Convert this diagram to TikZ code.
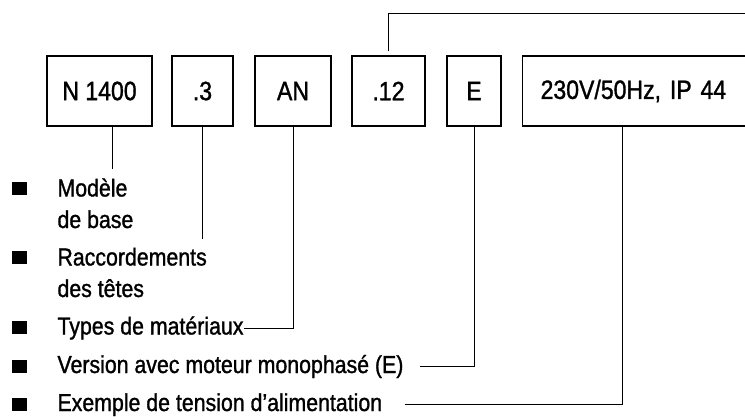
\documentclass[tikz,border=0pt]{standalone}
\usepackage{fontspec}
\setmainfont{Liberation Sans}[FakeStretch=0.87,FakeBold=1.2]

\begin{document}
\begin{tikzpicture}[x=1pt,y=-1pt,line width=1pt,
  code/.style={draw,line width=1.2pt,minimum height=70pt,inner sep=0pt,
    font=\fontsize{26.5}{30}\selectfont},
  item/.style={anchor=base west,inner sep=0pt,align=left,
    font=\fontsize{24.5}{31.5}\selectfont},
  square/.style={fill=black,minimum width=15pt,minimum height=13pt,inner sep=0pt}]
\useasboundingbox (0,0) rectangle (745,416);
% the type code
\node [code,minimum width=105pt] (base) at (99.5,91) {N 1400};
\node [code,minimum width=61pt] (joint) at (202.5,91) {.3};
\node [code,minimum width=76pt] (mat) at (293,91) {AN};
\node [code,minimum width=73pt] (dim) at (388.5,91) {.12};
\node [code,minimum width=54pt] (ebox) at (474,91) {E};
\node [code,anchor=west,text width=232pt,inner xsep=18pt,align=left] (volt) at (522,91) {230V/50Hz, IP 44};
\coordinate (feed) at (760,13);
% the list (base = last line)
\node [square] (sq1) at (19.5,188) {};
\node [item] (modele) at (57,228) {Modèle\\de base};
\node [square] (sq2) at (19.5,257) {};
\node [item] (racc) at (57,297) {Raccordements\\des têtes};
\node [square] (sq3) at (19.5,327.5) {};
\node [item] (types) at (57,334.5) {Types de matériaux};
\node [square] (sq4) at (19.5,366) {};
\node [item] (version) at (57,373) {Version avec moteur monophasé (E)};
\node [square] (sq5) at (19.5,404) {};
\node [item] (exemple) at (57,411) {Exemple de tension d’alimentation};
% connectors
\draw ([yshift=4pt]dim.north) |- (feed);
\draw ([xshift=13pt]base.south) -- ++(0,42);
\draw (joint.south) -- ++(0,112);
\draw (mat.south) |- (types.east);
\draw ([xshift=16pt]version.east) -| (ebox.south);
\draw ([xshift=22pt]exemple.east) -| ([xshift=100pt]volt.south west);
\end{tikzpicture}
\end{document}
